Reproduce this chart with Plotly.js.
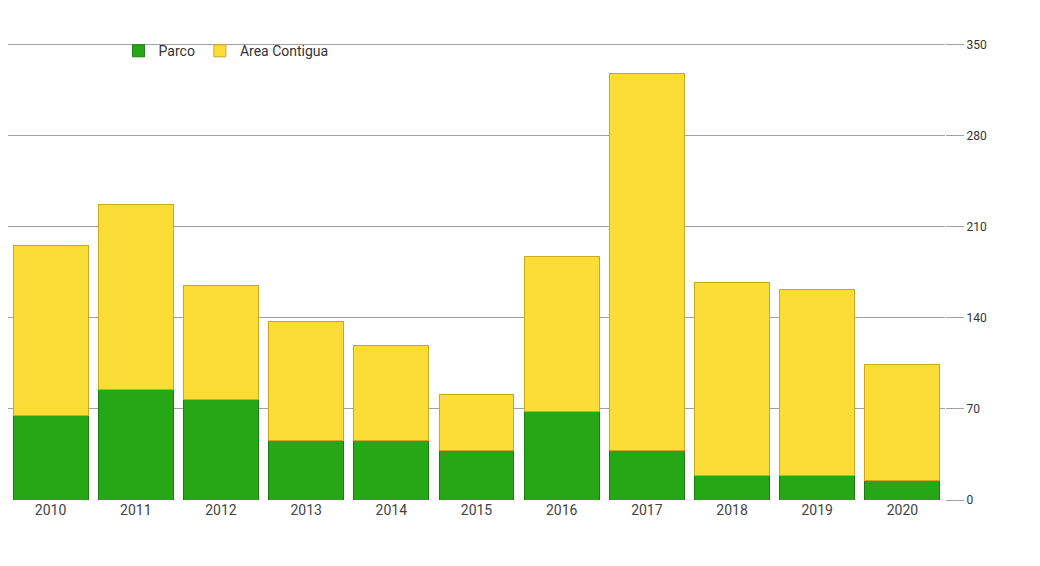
<!DOCTYPE html>
<html>
<head>
<meta charset="utf-8">
<script src="https://cdn.plot.ly/plotly-3.0.1.min.js"></script>
<style>html,body{margin:0;padding:0;background:#fff;}#chart{width:1040px;height:566px;}</style>
</head>
<body>
<div id="chart"></div>
<script>
const years = ["2010","2011","2012","2013","2014","2015","2016","2017","2018","2019","2020"];
const parco = [65, 85, 77, 46, 46, 38, 68, 38, 19, 19, 15];
const areaContigua = [131, 142, 88, 91, 73, 43, 119, 290, 148, 143, 89];
const yTicks = [0, 70, 140, 210, 280, 350];

const font = "'Roboto', 'Liberation Sans', sans-serif";

const traces = [
  {
    type: "bar", name: "Parco", x: years, y: parco,
    marker: {color: "#26a816", line: {color: "#1c7d10", width: 1}},
    hoverinfo: "x+y+name"
  },
  {
    type: "bar", name: "Area Contigua", x: years, y: areaContigua,
    marker: {color: "#fcdd36", line: {color: "#c9a823", width: 1}},
    hoverinfo: "x+y+name"
  }
];

const layout = {
  width: 1040, height: 566,
  margin: {l: 8, r: 95, t: 20, b: 66},
  paper_bgcolor: "#ffffff", plot_bgcolor: "#ffffff",
  barmode: "stack", bargap: 0.12,
  font: {family: font, size: 13, color: "#333"},
  showlegend: true,
  legend: {orientation: "h", x: 0.118, y: 0.935, xanchor: "left", yanchor: "middle",
           font: {family: font, size: 14, color: "#333"}, bgcolor: "rgba(0,0,0,0)",
           traceorder: "normal", itemwidth: 30},
  xaxis: {type: "category", showgrid: false, zeroline: false, showline: false,
          ticks: "", tickfont: {family: font, size: 14, color: "#444"}},
  yaxis: {side: "right", range: [0, 369], tickvals: yTicks, ticktext: yTicks.map(String),
          showgrid: true, gridcolor: "#a0a0a0", gridwidth: 1, zeroline: false,
          ticks: "outside", ticklen: 18, tickcolor: "#a0a0a0",
          tickfont: {family: font, size: 12, color: "#333"}, showline: false}
};

Plotly.newPlot("chart", traces, layout, {displayModeBar: false, staticPlot: true});
</script>
</body>
</html>
